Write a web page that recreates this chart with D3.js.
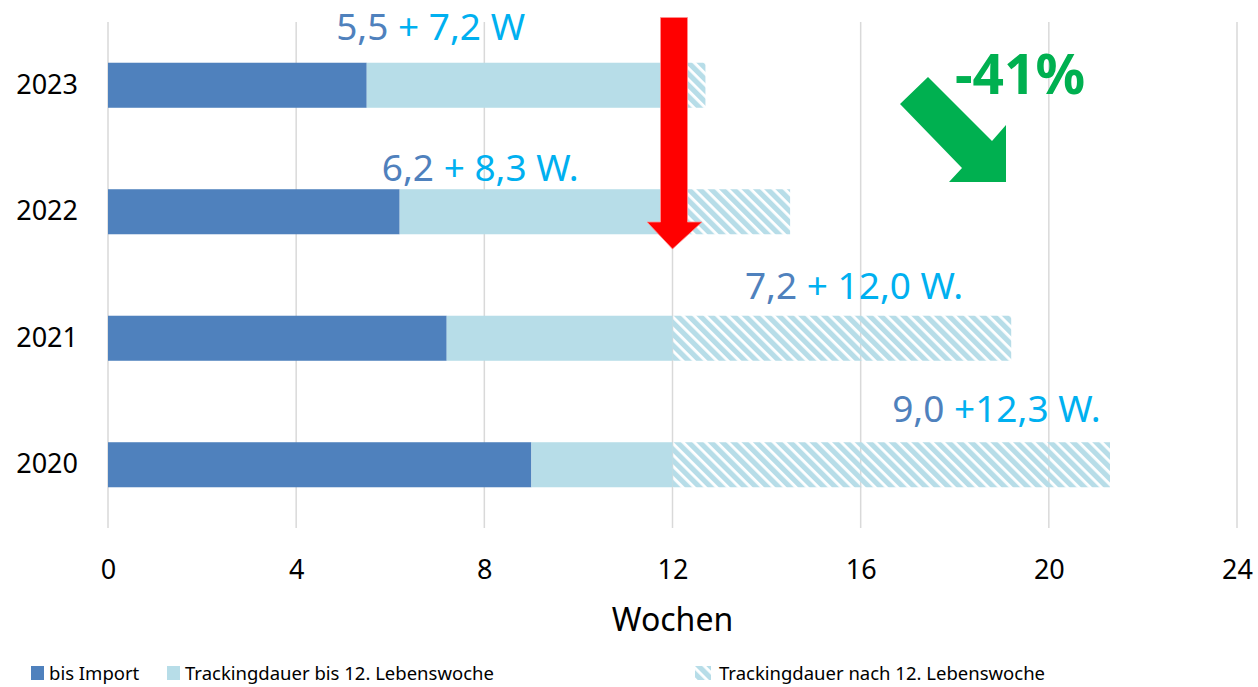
<!DOCTYPE html>
<html>
<head>
<meta charset="utf-8">
<script src="https://cdn.jsdelivr.net/npm/d3@7/dist/d3.min.js"></script>
<style>
  body { margin: 0; background: #fff; }
  text { font-family: 'Noto Sans', sans-serif; }
</style>
</head>
<body>
<svg id="chart"></svg>
<script>
// data
const years = ['2023', '2022', '2021', '2020'];
const bisImport = [5.5, 6.2, 7.2, 9.0];
const tracking = [7.2, 8.3, 12.0, 12.3];
const cutoff = 12; // 12. Lebenswoche
const xTicks = [0, 4, 8, 12, 16, 20, 24];
const labelDark = ['5,5', '6,2', '7,2', '9,0'];
const labelLight = [' + 7,2 W', ' + 8,3 W.', ' + 12,0 W.', ' +12,3 W.'];
const legendNames = ['bis Import', 'Trackingdauer bis 12. Lebenswoche', 'Trackingdauer nach 12. Lebenswoche'];
const changeLabel = '-41%';

const width = 1258;
const height = 687;
const margin = {left: 108, right: 21, top: 22, bottom: 159};
const innerW = width - margin.left - margin.right;
const innerH = height - margin.top - margin.bottom;

const darkBlue = '#4f81bd';
const lightBlue = '#b7dde8';
const labelBlue = '#00b0f0';

const svg = d3.select('#chart')
  .attr('width', width)
  .attr('height', height);

const defs = svg.append('defs');
defs.append('pattern')
    .attr('id', 'hatch')
    .attr('patternUnits', 'userSpaceOnUse')
    .attr('width', 8)
    .attr('height', 8)
    .attr('patternTransform', 'rotate(-45)')
  .append('rect')
    .attr('x', 0)
    .attr('y', 0)
    .attr('width', 5.2)
    .attr('height', 8)
    .attr('fill', lightBlue);

const g = svg.append('g')
  .attr('transform', `translate(${margin.left}, ${margin.top})`);

const x = d3.scaleLinear()
  .domain([0, 24])
  .range([0, innerW]);

const y = d3.scaleBand()
  .domain(years)
  .range([0, innerH])
  .paddingInner(0.644)
  .paddingOuter(0.322);

// gridlines
g.append('g')
  .selectAll('line')
  .data(xTicks)
  .join('line')
    .attr('x1', d => x(d))
    .attr('x2', d => x(d))
    .attr('y1', 0)
    .attr('y2', innerH)
    .attr('stroke', '#d9d9d9')
    .attr('stroke-width', 1.5);

// x axis labels
const xAxis = d3.axisBottom(x)
  .tickValues(xTicks)
  .tickSize(0)
  .tickPadding(0);

g.append('g')
  .attr('transform', `translate(0, ${innerH + 51})`)
  .call(xAxis)
  .call(s => s.select('.domain').remove())
  .selectAll('text')
    .attr('dy', 0)
    .attr('font-size', 27)
    .attr('font-family', 'Noto Sans')
    .attr('fill', '#000');

// y axis labels
const yAxis = d3.axisLeft(y).tickSize(0).tickPadding(30);
g.append('g')
  .call(yAxis)
  .call(s => s.select('.domain').remove())
  .selectAll('text')
    .attr('font-size', 27)
    .attr('font-family', 'Noto Sans')
    .attr('fill', '#000');

// axis title
g.append('text')
  .attr('x', x(12))
  .attr('y', innerH + 103)
  .attr('text-anchor', 'middle')
  .attr('font-size', 32)
  .attr('fill', '#000')
  .text('Wochen');

// stacked segments
const rows = years.map((yr, i) => {
  const total = bisImport[i] + tracking[i];
  return {
    year: yr,
    segs: [
      {x0: 0, x1: bisImport[i], fill: darkBlue},
      {x0: bisImport[i], x1: Math.min(total, cutoff), fill: lightBlue},
      {x0: cutoff, x1: Math.max(total, cutoff), fill: 'url(#hatch)'},
    ],
  };
});

const barsG = g.append('g').classed('bars', true);
barsG.selectAll('g')
  .data(rows)
  .join('g')
    .attr('transform', d => `translate(0, ${y(d.year)})`)
  .selectAll('rect')
  .data(d => d.segs.filter(s => s.x1 > s.x0))
  .join('rect')
    .attr('x', d => x(d.x0))
    .attr('width', d => x(d.x1) - x(d.x0))
    .attr('height', y.bandwidth())
    .attr('fill', d => d.fill);

// value labels above bars (hand placed in the original)
const labelAt = [4.85, 5.82, 13.54, 16.67];
const labelDy = [-23, -8, -17, -20];
const labels = g.append('g').selectAll('text')
  .data(years)
  .join('text')
    .attr('x', (_, i) => x(labelAt[i]))
    .attr('y', (d, i) => y(d) + labelDy[i])
    .attr('font-size', 37);
labels.append('tspan')
  .attr('fill', darkBlue)
  .text((_, i) => labelDark[i]);
labels.append('tspan')
  .attr('fill', labelBlue)
  .style('white-space', 'pre')
  .text((_, i) => labelLight[i]);

// red arrow at 12 weeks
const ax = x(cutoff) + 1.5;
const redArrow = [
  [ax - 13.5, -4.5], [ax + 13.5, -4.5], [ax + 13.5, 200], [ax + 28, 200],
  [ax - 1.5, 227], [ax - 27, 200], [ax - 13.5, 200],
];
g.append('path')
  .attr('d', d3.line()(redArrow) + 'Z')
  .attr('fill', '#ff0000')
  .attr('stroke', '#ff9090')
  .attr('stroke-width', 0.8);

// green trend arrow
const greenArrow = [
  [928, 77], [992, 141], [1006, 125], [1006, 182], [949, 182], [962, 168], [900, 104],
];
svg.append('path')
  .attr('d', d3.line()(greenArrow) + 'Z')
  .attr('fill', '#00b050');

svg.append('text')
  .attr('x', 955)
  .attr('y', 94)
  .attr('font-size', 55)
  .attr('font-weight', 'bold')
  .attr('fill', '#00b050')
  .text(changeLabel);

// legend
const legendX = [31, 167, 695];
const legendFill = [darkBlue, lightBlue, 'url(#hatch)'];
const legend = svg.append('g')
  .selectAll('g')
  .data(legendNames)
  .join('g')
    .attr('transform', (_, i) => `translate(${legendX[i]}, 666)`);
legend.append('rect')
  .attr('width', (_, i) => i === 2 ? 16 : 13)
  .attr('height', 14)
  .attr('fill', (_, i) => legendFill[i]);
legend.append('text')
  .attr('x', (_, i) => i === 2 ? 24 : 18)
  .attr('y', 14)
  .attr('font-size', 18.5)
  .attr('fill', '#000')
  .text(d => d);
</script>
</body>
</html>
